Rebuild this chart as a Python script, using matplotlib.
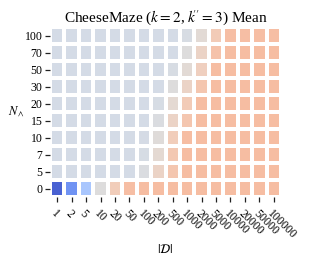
import numpy as np
import matplotlib
matplotlib.use("Agg")
import matplotlib.pyplot as plt

plt.rcParams['font.family'] = ['Liberation Serif', 'DejaVu Serif']
plt.rcParams['mathtext.fontset'] = 'stix'

dataset_sizes = ["1", "2", "5", "10", "20", "50", "100", "200", "500", "1000",
                 "2000", "5000", "10000", "20000", "50000", "100000"]
n_and = ["100", "70", "50", "30", "20", "15", "10", "7", "5", "0"]

bg = 0.465
mean_values = np.array([
    [bg]*9 + [0.48, 0.52, 0.60, 0.645, 0.645, 0.645, 0.645],
    [bg]*9 + [0.50, 0.56, 0.63, 0.65, 0.65, 0.65, 0.65],
    [bg]*8 + [0.48, 0.52, 0.58, 0.65, 0.65, 0.65, 0.65, 0.65],
    [bg]*8 + [0.50, 0.56, 0.62, 0.65, 0.65, 0.65, 0.65, 0.65],
    [bg]*7 + [0.475, 0.53, 0.60, 0.65, 0.65, 0.65, 0.65, 0.65, 0.65],
    [bg]*7 + [0.49, 0.56, 0.62, 0.65, 0.65, 0.65, 0.65, 0.65, 0.65],
    [bg]*6 + [0.47, 0.51, 0.59, 0.65, 0.65, 0.65, 0.65, 0.65, 0.65, 0.65],
    [bg]*6 + [0.475, 0.53, 0.61, 0.65, 0.65, 0.65, 0.65, 0.65, 0.65, 0.65],
    [bg]*6 + [0.49, 0.56, 0.62, 0.65, 0.65, 0.65, 0.65, 0.65, 0.65, 0.65],
    [0.05, 0.17, 0.33, 0.50, 0.59, 0.645] + [0.65]*10,
])

fig = plt.figure(figsize=(3.10, 2.69), dpi=100)
ax = fig.add_axes([50/310, 1-197/269, 231/310, 170/269])
ax.pcolormesh(mean_values, cmap='coolwarm', vmin=0, vmax=1,
              edgecolors='white', linewidth=1.6)
ax.set_xlim(0, len(dataset_sizes))
ax.set_ylim(len(n_and), 0)
for s in ax.spines.values():
    s.set_visible(False)

ax.set_xticks(np.arange(len(dataset_sizes)) + 0.5)
ax.set_xticklabels(dataset_sizes, rotation=-45, ha='left', va='top',
                   rotation_mode='anchor', fontsize=8.5)
ax.set_yticks(np.arange(len(n_and)) + 0.5)
ax.set_yticklabels(n_and, fontsize=8.5)
ax.tick_params(axis='both', length=3.5, width=0.9, color='#222222', pad=2)
ax.tick_params(axis='x', pad=4)

ax.set_title(r"CheeseMaze ($k=2$, $k\!^{\prime\prime}=3$) Mean", fontsize=11, pad=4)
ax.set_xlabel(r"$|\mathcal{D}|$", fontsize=9, labelpad=1)
ax.set_ylabel(r"$N_\wedge$", fontsize=9, rotation=0, labelpad=6, va='center')

fig.savefig("out.png", dpi=100)
